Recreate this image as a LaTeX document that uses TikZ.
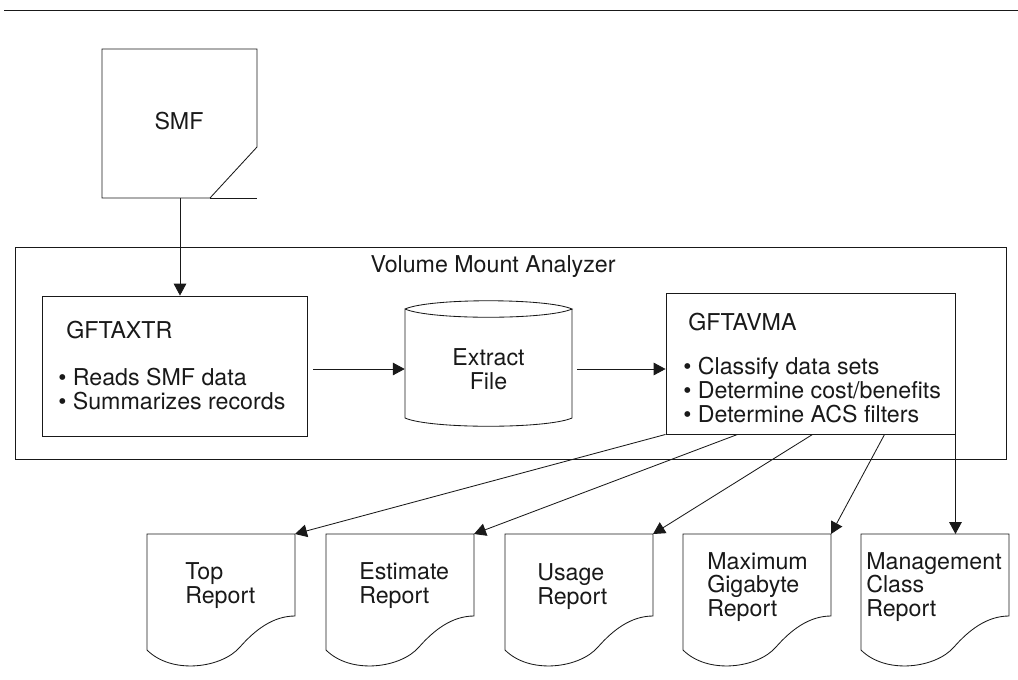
\documentclass[tikz,border=0pt]{standalone}
\usepackage{fontspec}
\setmainfont{TeX Gyre Heros}
\usetikzlibrary{arrows.meta, calc, positioning}

\begin{document}
\begin{tikzpicture}[
    x=0.025cm, y=-0.025cm,
    line/.style={draw=black!90, line width=0.6pt},
    arrow/.style={line, -{Triangle[length=8.5pt, width=9pt]}},
    procbox/.style={rectangle, draw=black!90, line width=0.6pt, inner sep=0pt},
    txt/.style={font=\fontsize{16.5}{17}\selectfont, text=black!90, inner sep=0pt, align=left}
]
\useasboundingbox (0,0) rectangle (1018,679);

% Rule
\draw[line] (4,10) -- (1018,10);

% SMF input
\draw[line] (102,49) -- (257,49) -- (257,147) -- (210,198) -- (102,198) -- cycle;
\draw[line] (210,198) -- (257,198);
\node[txt] (smf) at (179,121) {SMF};
\coordinate (smfout) at (180,198);

% Analyzer
\node[procbox, minimum width=24.75cm, minimum height=5.3cm] (analyzer) at (511,353) {};
\node[txt] (title) at (493,267) {Volume Mount Analyzer};

\node[procbox, minimum width=6.625cm, minimum height=3.5cm] (xtr) at (174.5,366) {};
\node[txt, anchor=west] (xtrname) at (66,330) {GFTAXTR};
\node[txt, anchor=west] (xtrlist) at (58,389) {\textbullet\ Reads SMF data\\\textbullet\ Summarizes records};

\node[procbox, minimum width=7.225cm, minimum height=3.525cm] (vma) at (810.5,363.5) {};
\node[txt, anchor=west] (vmaname) at (688,322) {GFTAVMA};
\node[txt, anchor=west] (vmalist) at (683,390) {\textbullet\ Classify data sets\\\textbullet\ Determine cost/benefits\\\textbullet\ Determine ACS filters};

% Extract file
\draw[line] (405,309) .. controls (430,298) and (547,298) .. (572,309)
    .. controls (547,320) and (430,320) .. (405,309) -- (405,418)
    .. controls (430,429) and (547,429) .. (572,418) -- (572,309);
\node[txt, align=center, minimum width=4.175cm] (extract) at (488.5,369) {Extract\\File};

% Reports
\foreach \rname/\x in {toprep/147, estrep/326, userep/505, maxrep/683, mgtrep/861} {
  \coordinate (\rname) at (\x+148,534);
  \draw[line] (\x,534) -- (\x+148,534) -- (\x+148,616)
    .. controls (\x+126,616) and (\x+108,630) .. (\x+93,647)
    .. controls (\x+75,668) and (\x+25,675) .. (\x,650) -- cycle;
}
\node[txt, anchor=west] (toplbl) at (185,586) {Top\\Report};
\node[txt, anchor=west] (estlbl) at (359,586) {Estimate\\Report};
\node[txt, anchor=west] (uselbl) at (537,587) {Usage\\Report};
\node[txt, anchor=west] (maxlbl) at (707,587) {Maximum\\Gigabyte\\Report};
\node[txt, anchor=west] (mgtlbl) at (866,587) {Management\\Class\\Report};

% Arrows
\draw[arrow] (smfout) -- (smfout |- xtr.north);
\draw[arrow] ($(extract.west -| xtr.east)+(6,0)$) -- (extract.west);
\draw[arrow] ($(extract.east)+(5,0)$) -- (extract.east -| vma.west);
\draw[arrow] (vma.south west) -- (toprep);
\draw[arrow] ($(vma.south west)+(72,0)$) -- (estrep);
\draw[arrow] ($(vma.south west)+(147,0)$) -- (userep);
\draw[arrow] ($(vma.south west)+(219,0)$) -- (maxrep);
\draw[arrow] (vma.south east) -- (vma.south east |- mgtrep);

\end{tikzpicture}
\end{document}
